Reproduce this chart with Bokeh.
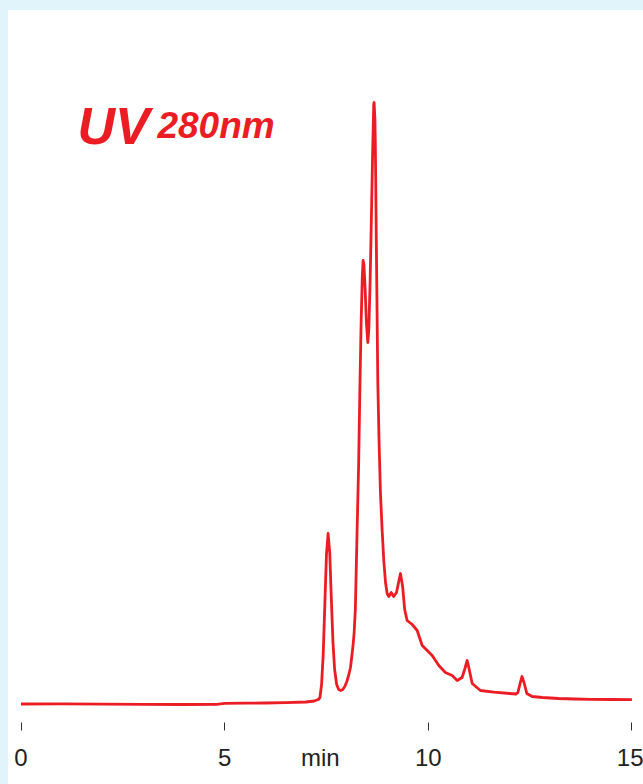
from bokeh.plotting import figure
from bokeh.models import Range1d, FixedTicker, Label, ColumnDataSource, LinearAxis, Div
from bokeh.layouts import row, column
from bokeh.embed import file_html
from bokeh.resources import INLINE

# ---- data ----
time_min = [0.0, 1.0, 2.0, 3.0, 4.0, 4.8, 5.0, 5.5, 6.0, 6.5, 7.0, 7.2, 7.3, 7.34,
            7.38, 7.42, 7.46, 7.50, 7.54, 7.58, 7.62, 7.66, 7.70, 7.75, 7.80, 7.85,
            7.90, 7.95, 8.0, 8.05, 8.09, 8.15, 8.18, 8.21, 8.25, 8.29, 8.32, 8.35,
            8.38, 8.40, 8.42, 8.45, 8.48, 8.515, 8.54, 8.57, 8.60, 8.63, 8.66, 8.67,
            8.69, 8.70, 8.73, 8.76, 8.79, 8.826, 8.866, 8.907, 8.95, 8.99, 9.03,
            9.09, 9.15, 9.22, 9.27, 9.317, 9.37, 9.42, 9.48, 9.605, 9.727, 9.85,
            9.973, 10.096, 10.258, 10.42, 10.587, 10.71, 10.83, 10.9, 10.955, 11.0,
            11.078, 11.28, 11.61, 12.0, 12.15, 12.2, 12.26, 12.3, 12.35, 12.42,
            12.55, 12.8, 13.2, 13.6, 14.0, 14.5, 15.0]
absorbance = [0.5, 0.6, 0.3, 0.2, 0.0, 0.2, 1.2, 1.3, 1.5, 1.8, 2.5, 3.5, 5.0, 7.0,
              20.0, 50.0, 100.0, 150.0, 171.0, 152.0, 105.0, 62.0, 35.0, 20.0, 15.0, 14.0,
              15.0, 18.0, 23.0, 30.0, 37.0, 58.0, 72.0, 96.0, 170.0, 240.0, 315.0, 380.0,
              428.0, 444.0, 440.0, 415.0, 382.0, 362.0, 375.0, 420.0, 480.0, 545.0, 600.0, 602.0,
              585.0, 560.0, 440.0, 324.0, 265.0, 211.0, 175.0, 144.0, 122.0, 111.0, 108.0,
              112.0, 108.0, 112.0, 122.0, 131.0, 118.0, 95.0, 84.0, 80.0, 74.0, 59.0,
              54.0, 49.0, 39.0, 32.0, 29.0, 24.0, 27.0, 36.0, 44.0, 36.0,
              21.0, 14.0, 12.3, 11.0, 10.5, 12.0, 22.0, 28.0, 22.0, 11.0,
              8.0, 7.0, 6.0, 5.5, 5.2, 5.0, 4.8]
tick_values = [0, 5, 10, 15]
label_positions = [0, 5, 7.35, 10, 15]
x_unit_label = "min"
title_main = "UV"
title_sub = "280nm"

RED = "#ec1c24"
BLUE_BG = "#e1f3fb"
TEXT = "#222222"

p = figure(width=635, height=774, output_backend="svg", toolbar_location=None,
           x_range=Range1d(-0.307, 15.284), y_range=Range1d(-18, 694),
           min_border_left=0, min_border_right=0, min_border_top=0, min_border_bottom=62,
           background_fill_color="white", border_fill_color="white",
           outline_line_color=None)

p.grid.visible = False
p.yaxis.visible = False

# axis 1: tick marks only
xa = p.xaxis[0]
xa.ticker = FixedTicker(ticks=tick_values)
xa.axis_line_color = None
xa.major_tick_in = 0
xa.major_tick_out = 8
xa.major_tick_line_color = "#333333"
xa.major_tick_line_width = 1
xa.minor_tick_line_color = None
xa.major_label_standoff = 0
xa.major_label_text_font_size = "0px"
xa.major_label_text_color = None

# axis 2: labels only (including the "min" unit label)
xb = LinearAxis(ticker=FixedTicker(ticks=label_positions),
                major_label_overrides={7.35: x_unit_label},
                axis_line_color=None, major_tick_line_color=None,
                minor_tick_line_color=None, major_tick_in=0, major_tick_out=0,
                major_label_standoff=13, major_label_text_font="Liberation Sans",
                major_label_text_font_size="24px", major_label_text_color=TEXT)
p.add_layout(xb, "below")

src = ColumnDataSource(dict(t=time_min, a=absorbance))
p.line("t", "a", source=src, line_color=RED, line_width=2.8, line_join="round")

p.add_layout(Label(x=1.387, y=579, text=title_main, text_align="left",
                   text_baseline="alphabetic", text_font="Liberation Sans",
                   text_font_style="bold italic", text_font_size="52px",
                   text_color=RED))
p.add_layout(Label(x=3.35, y=579, text=title_sub, text_align="left",
                   text_baseline="alphabetic", text_font="Liberation Sans",
                   text_font_style="bold italic", text_font_size="37px",
                   text_color=RED))

left_strip = Div(text="", width=8, height=784, margin=0,
                 styles={"background-color": BLUE_BG})
top_strip = Div(text="", width=635, height=10, margin=0,
                styles={"background-color": BLUE_BG})
root = row(left_strip, column(top_strip, p, spacing=0), spacing=0)

open("out.html", "w").write(file_html(root, INLINE))
